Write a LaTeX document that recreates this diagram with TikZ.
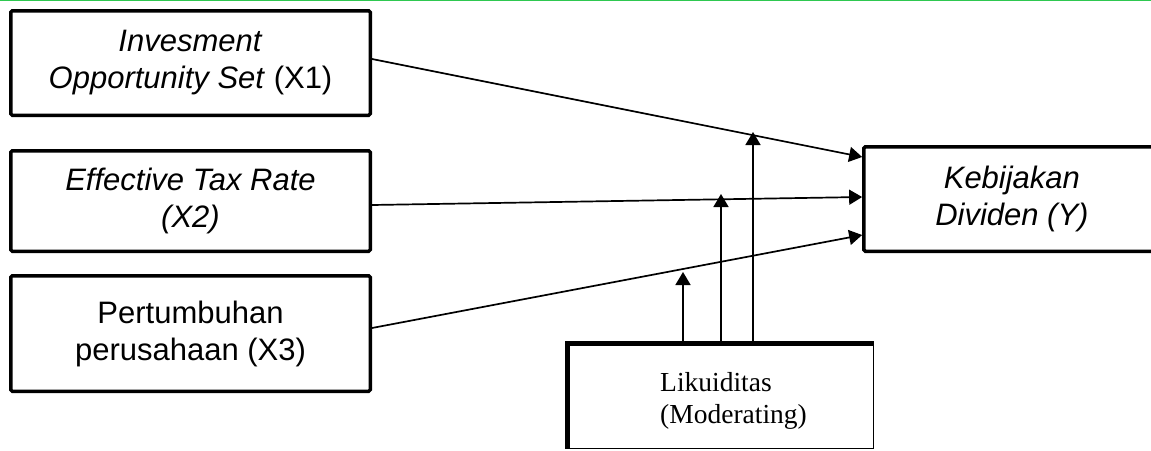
\documentclass[tikz,border=0pt]{standalone}
\usepackage{fontspec}
\setmainfont{Liberation Sans}
\newfontfamily\tnrfont{Liberation Serif}
\usetikzlibrary{arrows.meta}
\definecolor{topgreen}{RGB}{46,200,80}
\begin{document}
\begin{tikzpicture}[x=1pt,y=-1pt,
  box/.style={draw,line width=3.5pt,rounded corners=1.5pt,inner sep=0pt,align=center,
    font=\fontsize{31}{37}\selectfont},
  arr/.style={line width=1.7pt,-{Triangle[length=13pt,width=15pt]}},
  ltext/.style={font=\tnrfont\fontsize{27.5}{32}\selectfont,align=left,inner sep=0pt}]
\clip (0,0) rectangle (1151,450);
\fill[white] (0,0) rectangle (1151,450);
\draw[topgreen,line width=2.6pt] (0,0) -- (1151,0);
% boxes
\node[box,minimum width=359.5pt,minimum height=104.5pt] (X1) at (190.5,63)
  {\textit{Invesment}\\\textit{Opportunity Set} (X1)};
\node[box,minimum width=359.5pt,minimum height=100.5pt] (X2) at (190.5,201)
  {\textit{Effective Tax Rate}\\\textit{(X2)}};
\node[box,minimum width=359.5pt,minimum height=115.5pt] (X3) at (190.5,333.5)
  {Pertumbuhan\\perusahaan (X3)};
\node[box,minimum width=296pt,minimum height=104.5pt] (Y) at (1011.9,199)
  {\textit{Kebijakan}\\\textit{Dividen (Y)}};
% moderating box
\node[minimum width=306pt,minimum height=105pt,inner sep=0pt] (L) at (720.5,396) {};
\draw[line width=5pt] (L.south west) -- (L.north west) -- (L.north east);
\draw[line width=1.5pt] (L.north east) -- (L.south east) -- (L.south west);
\node[ltext] (Lt) at (733.5,401) {Likuiditas\\(Moderating)};
% direct paths
\draw[arr] ([yshift=4pt]X1.east) -- ([yshift=42pt]Y.west);
\draw[arr] ([yshift=-4pt]X2.east) -- ([yshift=2pt]Y.west);
\draw[arr] ([yshift=5.5pt]X3.east) -- ([yshift=-36pt]Y.west);
% moderation
\coordinate (m1) at (753,132);
\coordinate (m2) at (721,194);
\coordinate (m3) at (683,272);
\draw[arr] (L.north -| m1) -- (m1);
\draw[arr] (L.north -| m2) -- (m2);
\draw[arr] (L.north -| m3) -- (m3);
\end{tikzpicture}
\end{document}
